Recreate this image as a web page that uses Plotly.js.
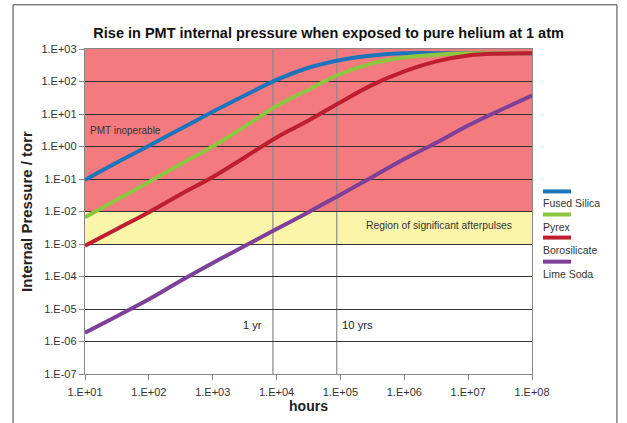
<!DOCTYPE html>
<html>
<head>
<meta charset="utf-8">
<script src="https://cdn.plot.ly/plotly-3.0.1.min.js"></script>
<style>html,body{margin:0;padding:0;background:#fff;}#chart{width:627px;height:423px;}</style>
</head>
<body>
<div id="chart"></div>
<script>
// hours (log scale, half-decade steps)
const hours = [1e1, 3.16e1, 1e2, 3.16e2, 1e3, 3.16e3, 1e4, 3.16e4, 1e5, 3.16e5, 1e6, 3.16e6, 1e7, 3.16e7, 1e8];
// internal pressure (torr)
const fusedSilica = [0.093, 0.32, 1.05, 3.5, 11.7, 37, 112, 265, 460, 630, 735, 745, 745, 745, 740];
const pyrex       = [0.0066, 0.023, 0.081, 0.29, 1.0, 4.1, 17.5, 56, 170, 360, 550, 665, 735, 745, 745];
const borosilicate= [0.00089, 0.0029, 0.0095, 0.034, 0.115, 0.46, 1.9, 6.3, 23, 79, 204, 415, 630, 720, 740];
const limeSoda    = [1.85e-6, 6e-6, 2e-5, 7.4e-5, 2.6e-4, 8.7e-4, 2.9e-3, 9.5e-3, 0.033, 0.115, 0.41, 1.3, 4.4, 13, 37];
const seriesNames = ["Fused Silica", "Pyrex", "Borosilicate", "Lime Soda"];
const seriesData = [fusedSilica, pyrex, borosilicate, limeSoda];
const seriesColors = ["#1C75BC", "#8DC63F", "#BE1E2D", "#7E3F98"];
const xTickVals = [1e1, 1e2, 1e3, 1e4, 1e5, 1e6, 1e7, 1e8];
const xTickText = ["1.E+01", "1.E+02", "1.E+03", "1.E+04", "1.E+05", "1.E+06", "1.E+07", "1.E+08"];
const yTickVals = [1e-7, 1e-6, 1e-5, 1e-4, 1e-3, 1e-2, 1e-1, 1e0, 1e1, 1e2, 1e3];
const yTickText = ["1.E-07", "1.E-06", "1.E-05", "1.E-04", "1.E-03", "1.E-02", "1.E-01", "1.E+00", "1.E+01", "1.E+02", "1.E+03"];
const markerHours = [8760, 87600];
const markerLabels = ["1 yr", "10 yrs"];
const inoperableBand = [1e-2, 1e3];
const afterpulseBand = [1e-3, 1e-2];

const FONT = "'Liberation Sans', Arial, sans-serif";
const traces = seriesData.map((d, i) => ({
  x: hours, y: d, type: "scatter", mode: "lines", name: seriesNames[i],
  line: {color: seriesColors[i], width: 4, shape: "spline", smoothing: 1.2},
  showlegend: false, hoverinfo: "skip"
}));

const shapes = [
  {type: "rect", xref: "paper", yref: "y", x0: 0, x1: 1, y0: inoperableBand[0], y1: inoperableBand[1], fillcolor: "#F37B80", line: {width: 0}, layer: "below"},
  {type: "rect", xref: "paper", yref: "y", x0: 0, x1: 1, y0: afterpulseBand[0], y1: afterpulseBand[1], fillcolor: "#FBF5AA", line: {width: 0}, layer: "below"},
  // outer frame
  {type: "rect", xref: "paper", yref: "paper", x0: -0.161, x1: 1.19, y0: -0.2, y1: 1.136, line: {color: "#444", width: 1}, fillcolor: "rgba(0,0,0,0)"}
];
markerHours.forEach(h => shapes.push({type: "line", xref: "x", yref: "paper", x0: h, x1: h, y0: 0, y1: 1, line: {color: "#8a8a8a", width: 1.2}, layer: "between"}));

// custom legend
const legY = [192, 215, 238, 262];
const pxToPaperY = p => (374 - p) / 324;
const pxToPaperX = p => (p - 85) / 447;
seriesNames.forEach((n, i) => {
  shapes.push({type: "line", xref: "paper", yref: "paper", x0: pxToPaperX(543), x1: pxToPaperX(571), y0: pxToPaperY(legY[i]), y1: pxToPaperY(legY[i]), line: {color: seriesColors[i], width: 4}});
});

const annotations = [
  {text: "PMT inoperable", x: 1.05, y: 0.49, xref: "x", yref: "y", xanchor: "left", yanchor: "middle", showarrow: false, font: {family: FONT, size: 10, color: "#333"}},
  {text: "Region of significant afterpulses", x: 7.72, y: -2.43, xref: "x", yref: "y", xanchor: "right", yanchor: "middle", showarrow: false, font: {family: FONT, size: 10.3, color: "#333"}},
  {text: markerLabels[0], x: 3.8, y: -5.49, xref: "x", yref: "y", xanchor: "right", yanchor: "middle", showarrow: false, font: {family: FONT, size: 11, color: "#222"}},
  {text: markerLabels[1], x: 4.99, y: -5.49, xref: "x", yref: "y", xanchor: "left", yanchor: "middle", showarrow: false, font: {family: FONT, size: 11.3, color: "#222"}}
];
seriesNames.forEach((n, i) => {
  annotations.push({text: n, xref: "paper", yref: "paper", x: pxToPaperX(541), y: pxToPaperY(legY[i] + 12), xanchor: "left", yanchor: "middle", showarrow: false, font: {family: FONT, size: 10.5, color: "#333"}});
});

const layout = {
  width: 627, height: 423,
  margin: {l: 85, r: 95, t: 49, b: 49},
  paper_bgcolor: "#fff", plot_bgcolor: "#fff",
  font: {family: FONT, color: "#333"},
  title: {text: "<b>Rise in PMT internal pressure when exposed to pure helium at 1 atm</b>", x: 0.545, xanchor: "center", xref: "paper", y: 0.922, yanchor: "middle", yref: "container", font: {family: FONT, size: 14.5, color: "#111"}},
  xaxis: {type: "log", range: [1, 8], tickvals: xTickVals, ticktext: xTickText, showgrid: false, zeroline: false,
    showline: true, linecolor: "#888", linewidth: 1.2, ticks: "outside", ticklen: 5, tickcolor: "#888", ticklabelstandoff: 3,
    tickfont: {family: FONT, size: 11, color: "#333"}, mirror: true,
    title: {text: "<b>hours</b>", font: {family: FONT, size: 14, color: "#222"}, standoff: 3}},
  yaxis: {type: "log", range: [-7, 3], tickvals: yTickVals, ticktext: yTickText, showgrid: true, gridcolor: "#333", gridwidth: 1, zeroline: false,
    showline: true, linecolor: "#888", linewidth: 1.2, ticks: "outside", ticklen: 5, tickcolor: "#888",
    tickfont: {family: FONT, size: 11, color: "#333"}, mirror: true,
    title: {text: "<b>Internal Pressure / torr</b>", font: {family: FONT, size: 15, color: "#222"}, standoff: 5}},
  shapes: shapes,
  annotations: annotations,
  showlegend: false
};

Plotly.newPlot("chart", traces, layout, {displayModeBar: false, staticPlot: true});
</script>
</body>
</html>
